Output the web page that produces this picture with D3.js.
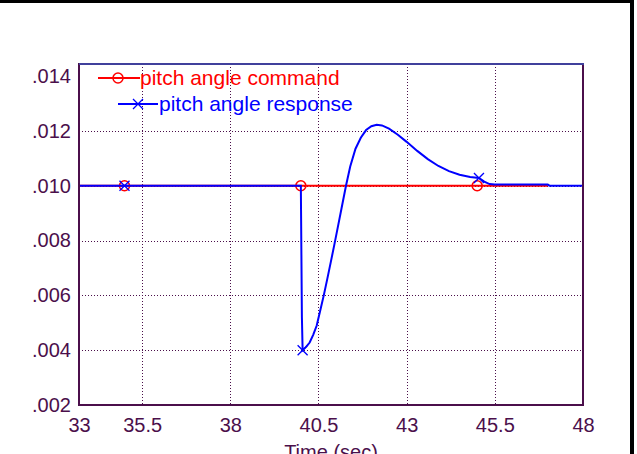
<!DOCTYPE html>
<html><head><meta charset="utf-8">
<script src="https://cdn.jsdelivr.net/npm/d3@7"></script>
<style>
body{margin:0;background:#fff;}
svg{display:block;}
text{font-family:"Liberation Sans",Arial,sans-serif;}
</style>
</head><body>
<svg id="c" width="637" height="454"></svg>
<script>
// ---- data ----
const xTickValues = [33.71, 35.5, 38, 40.5, 43, 45.5, 48];
const xTickLabels = ["33", "35.5", "38", "40.5", "43", "45.5", "48"];
const yTickValues = [0.002, 0.004, 0.006, 0.008, 0.010, 0.012, 0.014];
const yTickLabels = [".002", ".004", ".006", ".008", ".010", ".012", ".014"];

const commandTime  = [33, 35, 40, 45, 47];
const commandValue = [0.010, 0.010, 0.010, 0.010, 0.010];
const commandMarkTime  = [35, 40, 45];
const commandMarkValue = [0.010, 0.010, 0.010];

const responseTime = [33, 35, 40, 40.03, 40.05, 40.15, 40.25, 40.35, 40.45, 40.55, 40.65, 40.75,
  40.85, 40.95, 41.05, 41.15, 41.28, 41.40, 41.55, 41.70, 41.85, 42.00, 42.15, 42.30, 42.50,
  42.75, 43.00, 43.30, 43.60, 43.90, 44.20, 44.50, 44.80, 45.05, 45.20, 45.35, 45.50, 46, 47, 47.05, 48];
const responseValue = [0.010, 0.010, 0.010, 0.0052, 0.00400, 0.00412, 0.00428, 0.00456, 0.00490, 0.00545, 0.00600, 0.00660,
  0.00722, 0.00785, 0.00850, 0.00915, 0.01000, 0.01070, 0.01135, 0.01175, 0.01203, 0.01217, 0.01222, 0.01220, 0.01208,
  0.01186, 0.01160, 0.01127, 0.01097, 0.01072, 0.01053, 0.01040, 0.01032, 0.01028, 0.01015, 0.01006, 0.01004, 0.01004, 0.01004, 0.0100, 0.0100];
const responseMarkTime  = [35, 40.05, 45.05];
const responseMarkValue = [0.010, 0.0040, 0.01028];

const legendLabels = ["pitch angle command", "pitch angle response"];

// ---- drawing ----
const svg = d3.select("#c");
const axisColor = "#4b0f4b";
const L = 79, R = 583, T = 64, B = 405;

const x = d3.scaleLinear().domain([33.71, 48]).range([L, R]);
const y = d3.scaleLinear().domain([0.002, 0.01444]).range([B, T]);

// outer frame
svg.append("rect").attr("x", 0).attr("y", 0).attr("width", 634).attr("height", 3).attr("fill", "#000");
svg.append("rect").attr("x", 630).attr("y", 0).attr("width", 4).attr("height", 454).attr("fill", "#000");

// grid
const grid = svg.append("g").attr("stroke", axisColor).attr("stroke-width", 1).attr("stroke-dasharray", "1,2");
grid.selectAll("line.v").data(xTickValues.slice(1, -1)).enter().append("line")
  .attr("x1", d => Math.round(x(d)) + 0.5).attr("x2", d => Math.round(x(d)) + 0.5)
  .attr("y1", T).attr("y2", B);
grid.selectAll("line.h").data(yTickValues.slice(1, -1)).enter().append("line")
  .attr("y1", d => Math.round(y(d)) + 0.5).attr("y2", d => Math.round(y(d)) + 0.5)
  .attr("x1", L).attr("x2", R);

// axes
const xAxis = d3.axisBottom(x).tickValues(xTickValues)
  .tickFormat((d, i) => xTickLabels[i]).tickSize(0).tickPadding(13);
const gx = svg.append("g").attr("transform", `translate(0,${B})`).call(xAxis);
gx.select(".domain").remove();
gx.selectAll("text").attr("fill", axisColor).style("font-size", "20px");

const yAxis = d3.axisLeft(y).tickValues(yTickValues)
  .tickFormat((d, i) => yTickLabels[i]).tickSize(0).tickPadding(8);
const gy = svg.append("g").attr("transform", `translate(${L},0)`).call(yAxis);
gy.select(".domain").remove();
gy.selectAll("text").attr("fill", axisColor).style("font-size", "20px");

svg.append("text").attr("x", (L + R) / 2).attr("y", 459).attr("text-anchor", "middle")
  .attr("fill", axisColor).style("font-size", "20px").text("Time (sec)");

// clip
svg.append("clipPath").attr("id", "clip").append("rect")
  .attr("x", L).attr("y", T).attr("width", R - L).attr("height", B - T);
const plot = svg.append("g").attr("clip-path", "url(#clip)");

const line = d3.line().x(d => x(d[0])).y(d => y(d[1]));

// command
plot.append("path").datum(commandTime.map((t, i) => [t, commandValue[i]]))
  .attr("d", line).attr("fill", "none").attr("stroke", "#ff0000").attr("stroke-width", 2);
plot.selectAll("circle.cm").data(commandMarkTime.map((t, i) => [t, commandMarkValue[i]]))
  .enter().append("circle").attr("cx", d => x(d[0])).attr("cy", d => y(d[1])).attr("r", 5)
  .attr("fill", "none").attr("stroke", "#ff0000").attr("stroke-width", 1.5);

// response
plot.append("path").datum(responseTime.map((t, i) => [t, responseValue[i]]))
  .attr("d", line).attr("fill", "none").attr("stroke", "#0000ff").attr("stroke-width", 2);
const xMark = (g, cx, cy, s) => g.append("path")
  .attr("d", `M${cx - s},${cy - s}L${cx + s},${cy + s}M${cx - s},${cy + s}L${cx + s},${cy - s}`)
  .attr("stroke", "#0000ff").attr("stroke-width", 1.3).attr("fill", "none");
responseMarkTime.forEach((t, i) => xMark(plot, x(t), y(responseMarkValue[i]), 5));

// box
svg.append("rect").attr("x", L).attr("y", T).attr("width", R - L).attr("height", B - T)
  .attr("fill", "none").attr("stroke", axisColor).attr("stroke-width", 2);
svg.append("line").attr("x1", L).attr("x2", R + 1).attr("y1", T).attr("y2", T)
  .attr("stroke", "#40409c").attr("stroke-width", 2);

// legend
const lg = svg.append("g");
lg.append("line").attr("x1", 98).attr("x2", 140).attr("y1", 78).attr("y2", 78)
  .attr("stroke", "#ff0000").attr("stroke-width", 2);
lg.append("circle").attr("cx", 118).attr("cy", 78).attr("r", 5)
  .attr("fill", "none").attr("stroke", "#ff0000").attr("stroke-width", 1.5);
lg.append("text").attr("x", 140).attr("y", 85).attr("fill", "#ff0000")
  .style("font-size", "21px").text(legendLabels[0]);
lg.append("line").attr("x1", 118).attr("x2", 158).attr("y1", 104).attr("y2", 104)
  .attr("stroke", "#0000ff").attr("stroke-width", 2);
xMark(lg, 138, 104, 5);
lg.append("text").attr("x", 159).attr("y", 111).attr("fill", "#0000ff")
  .style("font-size", "21px").text(legendLabels[1]);
</script>
</body></html>
